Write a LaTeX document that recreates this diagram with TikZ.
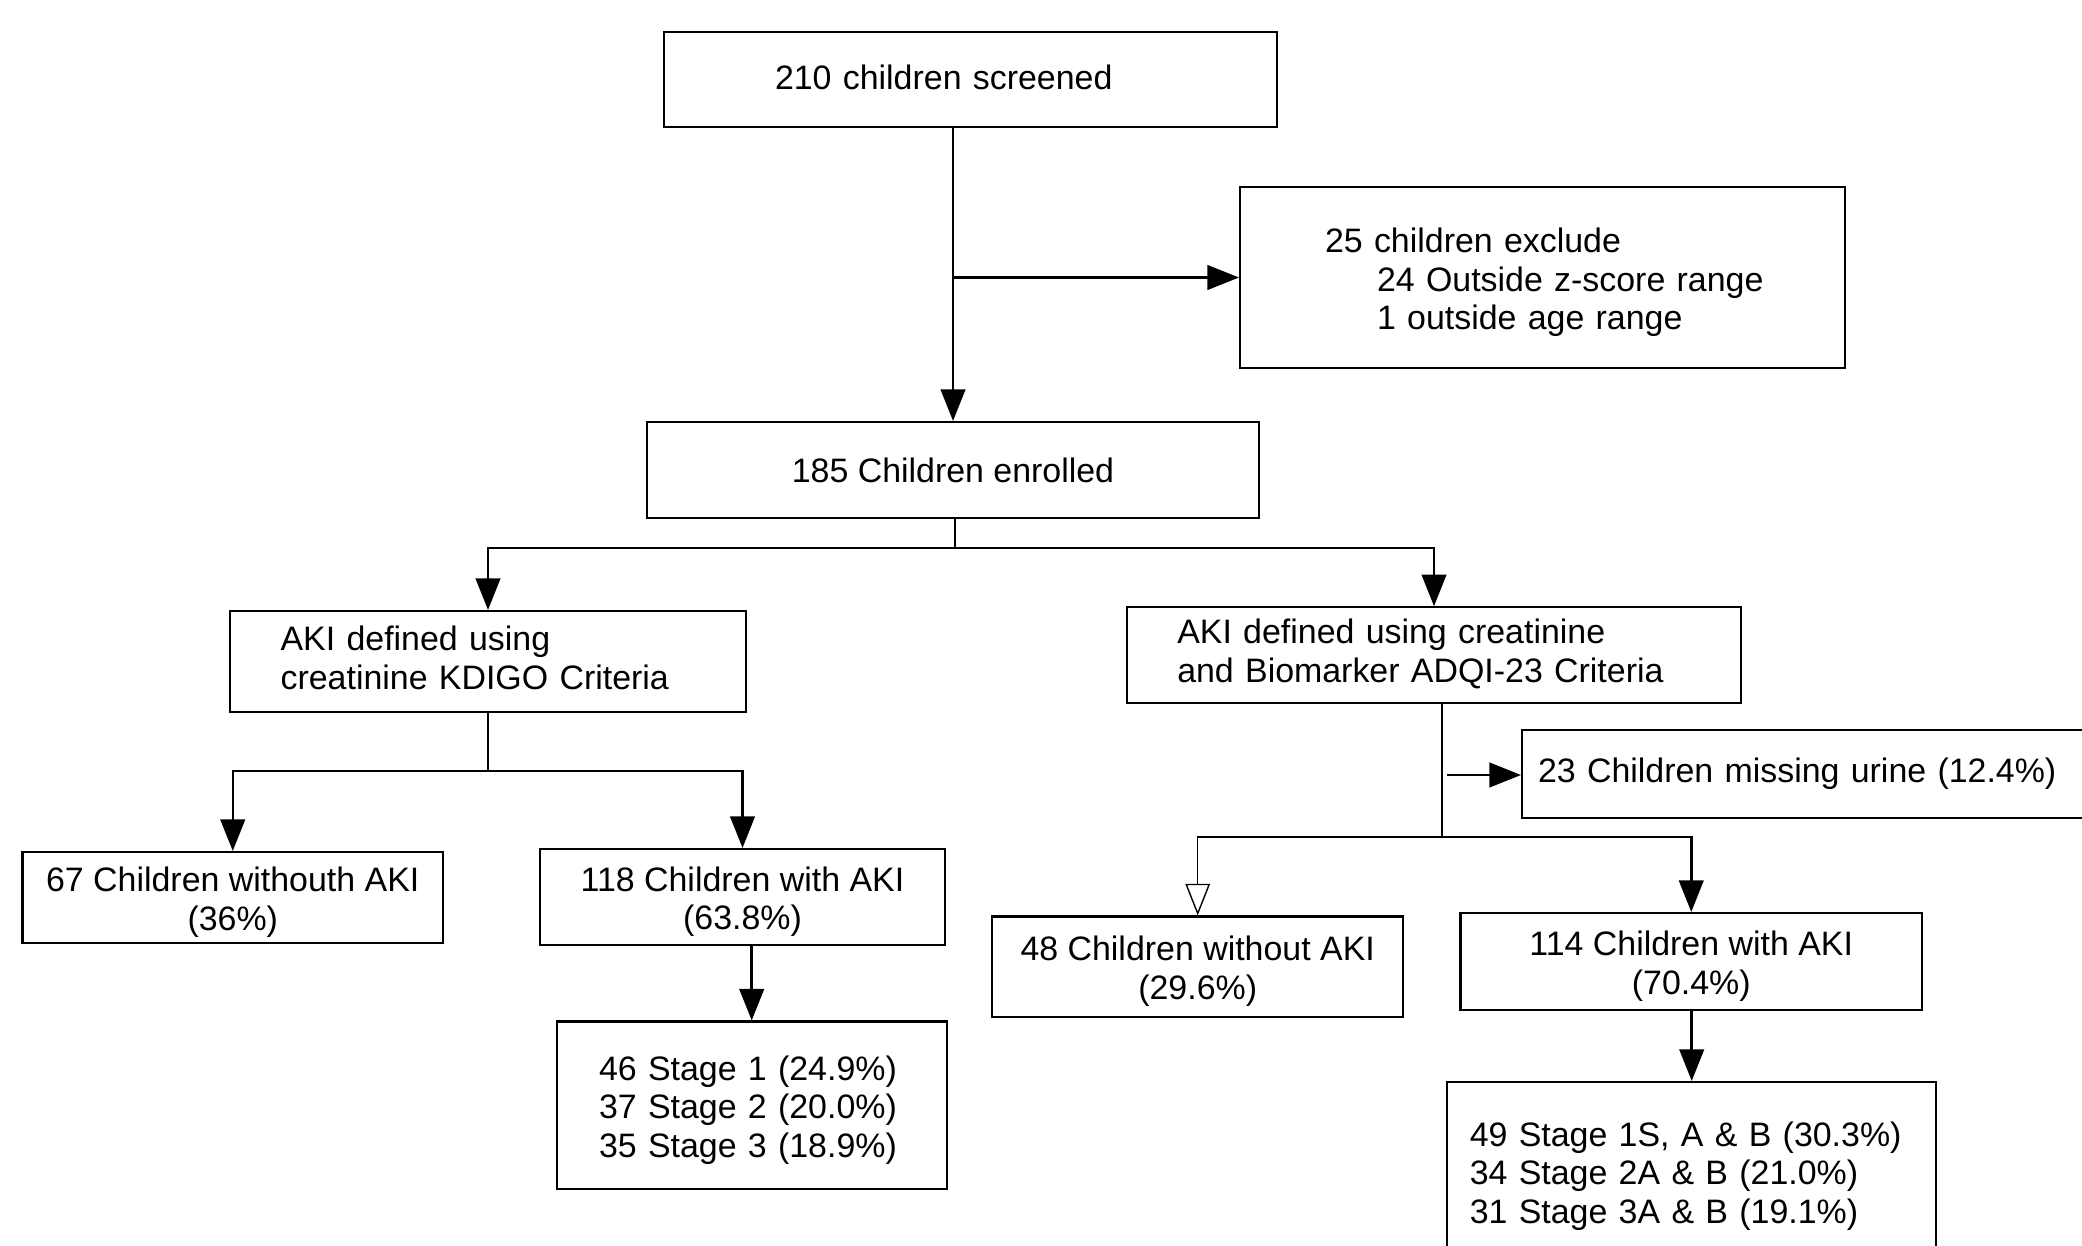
\documentclass[tikz,border=0pt]{standalone}
\usepackage{fontspec}
\setmainfont{Liberation Sans}
\usetikzlibrary{arrows.meta}
\newcommand{\padtop}{\rule{0pt}{9.7pt}}
\newcommand{\padbot}[1]{\rule[-#1]{0pt}{#1}}

\begin{document}
\begin{tikzpicture}[x=0.1mm, y=-0.1mm]
\tikzset{boxfont/.style ={font=\fontsize{9.65}{11}\selectfont}}
\tikzset{cbox/.style 2 args ={draw, line width=0.6pt, boxfont, inner xsep=0pt, inner ysep=0pt, minimum width=#1, minimum height=#2, align=center}}
\tikzset{lbox/.style n args={4}{draw, line width=0.6pt, boxfont, inner ysep=0pt, minimum width=#1, minimum height=#2, inner xsep=#3, text width=#4, align=left}}
\tikzset{arr/.style ={line width=0.7pt, -{Triangle[length=9pt, width=7pt]}}}
\tikzset{stem/.style ={line width=0.4pt}}
\useasboundingbox (0,0) rectangle (2082,1246);
\clip (0,0) rectangle (2082,1246);
\node[lbox={61.3mm}{9.5mm}{11.1mm}{39.1mm}] (screened) at (970.5,79.5) {210 children screened\padbot{1.4pt}};
\node[lbox={60.5mm}{18.1mm}{8.5mm}{43.5mm}] (excluded) at (1542.5,277.5) {\padtop 25 children exclude\\
  \mbox{\hspace{5.2mm}24 Outside z-score range}\\
  \hspace*{5.2mm}1 outside age range};
\node[cbox={61.2mm}{9.6mm}] (enrolled) at (953,470) {185 Children enrolled};
\node[lbox={51.6mm}{10.1mm}{5.06mm}{41.48mm}] (kdigo) at (488,661.5) {AKI defined using\\creatinine KDIGO Criteria\padbot{2pt}};
\node[lbox={61.35mm}{9.55mm}{5mm}{51.35mm}] (adqi) at (1434,655) {AKI defined using creatinine\\and Biomarker ADQI-23 Criteria\padbot{2.5pt}};
\node[cbox={42.05mm}{9.1mm}] (kNoAki) at (232.75,897.5) {\padtop 67 Children withouth AKI\\(36\%)};
\node[cbox={40.5mm}{9.6mm}] (kAki) at (742.5,897) {\padtop 118 Children with AKI\\(63.8\%)};
\node[lbox={39mm}{16.75mm}{4.23mm}{30.54mm}] (kStage) at (751.7,1105.25) {\padtop 46 Stage 1 (24.9\%)\\37 Stage 2 (20.0\%)\\35 Stage 3 (18.9\%)};
\node[lbox={67.8mm}{8.8mm}{1.6mm}{64.6mm}] (urine) at (1861,774) {23 Children missing urine (12.4\%)};
\node[cbox={41.14mm}{10.02mm}] (aNoAki) at (1197.7,966.6) {\padtop 48 Children without AKI\\(29.6\%)};
\node[cbox={46.15mm}{9.7mm}] (aAki) at (1691.25,961.5) {\padtop 114 Children with AKI\\(70.4\%)};
\node[lbox={48.86mm}{18.8mm}{2.24mm}{44.38mm}] (aStage) at (1691.7,1176) {49 Stage 1S, A \& B (30.3\%)\\34 Stage 2A \& B (21.0\%)\\31 Stage 3A \& B (19.1\%)};
\coordinate (s1) at (953,277.5);
\coordinate (s2) at (955,548);
\coordinate (s3) at (488,771);
\coordinate (s4) at (1442,837);
\coordinate (s5) at (1442,775);
\draw[arr] (screened.south -| s1) -- (enrolled.north -| s1);
\draw[arr] (s1) -- (excluded.west |- s1);
\draw[stem] (enrolled.south -| s2) -- (s2);
\draw[arr] (s2) -| (kdigo.north);
\draw[arr] (s2) -| (adqi.north);
\draw[stem] (kdigo.south) -- (s3);
\draw[arr] (s3) -| (kNoAki.north);
\draw[arr] (s3) -| (kAki.north);
\draw[arr] (kAki.south -| kStage.north) -- (kStage.north);
\draw[stem] (adqi.south -| s4) -- (s4);
\draw[arr, shorten <=0.5mm] (s5) -- (urine.west |- s5);
\draw[stem, -{Triangle[open, length=9pt, width=7pt]}] (s4) -| (aNoAki.north);
\draw[arr] (s4) -| (aAki.north);
\draw[arr] (aAki.south -| aStage.north) -- (aStage.north);
\end{tikzpicture}
\end{document}
